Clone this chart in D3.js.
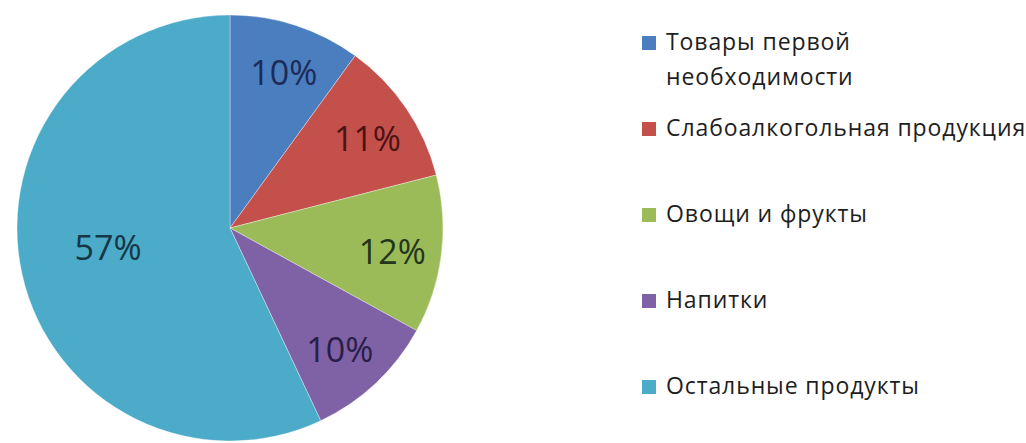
<!DOCTYPE html>
<html><head><meta charset="utf-8">
<script src="https://cdn.jsdelivr.net/npm/d3@7"></script>
<style>
html,body{margin:0;padding:0;background:#fff;}
svg{display:block;}
</style></head>
<body>
<svg id="chart" width="1026" height="443"></svg>
<script>
const categories = ["Товары первой необходимости", "Слабоалкогольная продукция", "Овощи и фрукты", "Напитки", "Остальные продукты"];
const legendLines = [["Товары первой", "необходимости"], ["Слабоалкогольная продукция"], ["Овощи и фрукты"], ["Напитки"], ["Остальные продукты"]];
const values = [10, 11, 12, 10, 57];
const sliceColors = ["#4a7ebf", "#c4504c", "#9bbb59", "#7f62a6", "#4babc8"];
const labelColors = ["#1c2b58", "#4a1414", "#24361a", "#2a1d48", "#173747"];

const svg = d3.select("#chart");
const cx = 230, cy = 228, R = 213;

const pie = d3.pie().sort(null).value(d => d)(values);
const arc = d3.arc().innerRadius(0).outerRadius(R);

const g = svg.append("g").attr("transform", `translate(${cx},${cy})`);
g.selectAll("path").data(pie).join("path")
  .attr("d", arc)
  .attr("fill", (d, i) => sliceColors[i])
  .attr("stroke", "#ffffff")
  .attr("stroke-opacity", 0.45)
  .attr("stroke-width", 0.8);

const total = d3.sum(values);
g.selectAll("text.lbl").data(pie).join("text")
  .attr("class", "lbl")
  .attr("transform", d => {
    const big = d.value / total > 0.5;
    const r = (big ? 0.58 : 0.77) * R;
    const a = (d.startAngle + d.endAngle) / 2 + (big ? 0.06 : 0.02);
    return `translate(${Math.sin(a) * r},${-Math.cos(a) * r})`;
  })
  .attr("text-anchor", "middle")
  .attr("dy", "0.36em")
  .attr("font-family", "'Open Sans', sans-serif")
  .attr("font-size", 34)
  .attr("fill", (d, i) => labelColors[i])
  .text(d => Math.round(d.value / total * 100) + "%");

// Legend
const lx = 642, ly0 = 36, step = 86, sq = 14;
const leg = svg.append("g");
legendLines.forEach((lines, i) => {
  const y = ly0 + i * step;
  leg.append("rect").attr("x", lx).attr("y", y).attr("width", sq).attr("height", sq)
    .attr("fill", sliceColors[i]);
  const t = leg.append("text")
    .attr("x", lx + 24).attr("y", y + sq)
    .attr("font-family", "'Open Sans', sans-serif")
    .attr("font-size", 23)
    .attr("letter-spacing", 0.9)
    .attr("fill", "#1e1e1e");
  lines.forEach((ln, j) => {
    t.append("tspan").attr("x", lx + 24).attr("dy", j === 0 ? 0 : 35).text(ln);
  });
});
</script>
</body></html>
